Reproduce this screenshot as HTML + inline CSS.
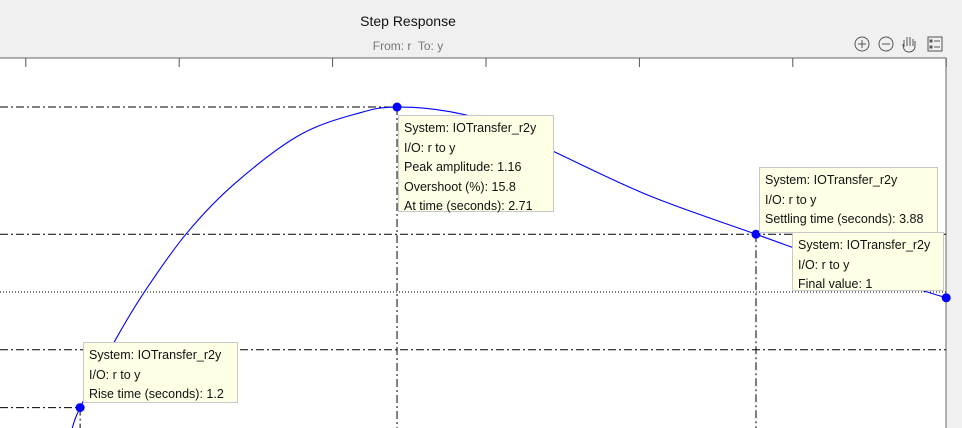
<!DOCTYPE html>
<html><head><meta charset="utf-8"><style>
html,body{margin:0;padding:0;background:#f0f0f0;width:962px;height:428px;overflow:hidden;font-family:"Liberation Sans",Arial,sans-serif}
.tip{position:absolute;background:#ffffe6;border:1px solid #c8c8c8;font-size:12.5px;line-height:19.5px;padding:3px 5px 0 5px;color:#111;white-space:nowrap;box-sizing:border-box}
</style></head><body>
<div style="position:relative;width:962px;height:428px">
<div style="position:absolute;left:0;width:816px;top:13px;text-align:center;font-size:14px;color:#111">Step Response</div>
<div style="position:absolute;left:0;width:816px;top:39px;text-align:center;font-size:12px;color:#777">From: r&nbsp; To: y</div>
<svg width="962" height="60" style="position:absolute;left:0;top:0">
<g stroke="#555" fill="none"><circle cx="862" cy="44" r="7"/><path d="M858 44h8M862 40v8"/></g>
<g stroke="#555" fill="none"><circle cx="886" cy="44" r="7"/><path d="M882 44h8"/></g>
<g stroke="#555" fill="none"><path d="M904 47v-7M907 46v-9M910 46v-9M913 46v-7M903 44c0 6 3 8 6 8s6-2 6-6v-5"/></g>
<g stroke="#555" fill="none"><rect x="928" y="37" width="14" height="14"/><path d="M934 41h6M934 47h6"/><rect x="930" y="40" width="2" height="2" fill="#555"/><rect x="930" y="46" width="2" height="2" fill="#555"/></g>
</svg>
<svg id="plot" width="962" height="428" style="position:absolute;left:0;top:0"></svg>
<div class="tip" style="left:398px;top:115px;width:156px;height:97px">System: IOTransfer_r2y<br>I/O: r to y<br>Peak amplitude: 1.16<br>Overshoot (%): 15.8<br>At time (seconds): 2.71</div>
<div class="tip" style="left:759px;top:167px;width:179px;height:66px">System: IOTransfer_r2y<br>I/O: r to y<br>Settling time (seconds): 3.88</div>
<div class="tip" style="left:792px;top:232px;width:152px;height:59px">System: IOTransfer_r2y<br>I/O: r to y<br>Final value: 1</div>
<div class="tip" style="left:83px;top:342px;width:155px;height:61px">System: IOTransfer_r2y<br>I/O: r to y<br>Rise time (seconds): 1.2</div>
</div>
<script>
const times = [1.651,1.677,1.791,1.889,2.025,2.182,2.394,2.589,2.710,2.883,3.046,3.225,3.535,3.880,4.186,4.500];
const values = [0.882,0.900,0.958,1.001,1.051,1.094,1.136,1.155,1.160,1.156,1.144,1.121,1.083,1.050,1.021,0.995];
const xTicks = [1.5,2,2.5,3,3.5,4,4.5];
const peak = [2.71,1.16];
const settle = [3.88,1.05];
const rise = [1.677,0.90];
const finalVal = [4.5,0.995];
const lowBand = 0.95, finalLine = 1.0;
const ns='http://www.w3.org/2000/svg';
const svg=document.getElementById('plot');
const X=t=>332.6+(t-2.5)*306.8;
const Y=v=>292-(v-1)*1156;
function mk(tag,attrs){const e=document.createElementNS(ns,tag);for(const k in attrs)e.setAttribute(k,attrs[k]);svg.appendChild(e);return e;}
let bg=mk('rect',{x:-10,y:58,width:956,height:380,fill:'#fff',stroke:'#666'});


xTicks.forEach(t=>{const l=mk('line',{x1:X(t),x2:X(t),y1:58,y2:67,stroke:'#555'});

});
const dd='8,3,2,3';
function ref(x1,y1,x2,y2,da,name){const l=mk('line',{x1,y1,x2,y2,stroke:'#000','stroke-dasharray':da,'stroke-width':1});

}
ref(0,Y(peak[1]),X(peak[0]),Y(peak[1]),dd,'peak-h-line');
ref(X(peak[0]),Y(peak[1]),X(peak[0]),428,dd,'peak-v-line');
ref(0,Y(settle[1]),946,Y(settle[1]),dd,'settle-upper-line');
ref(0,Y(lowBand),946,Y(lowBand),dd,'settle-lower-line');
ref(X(settle[0]),Y(settle[1]),X(settle[0]),428,dd,'settle-v-line');
ref(0,Y(finalLine),946,Y(finalLine),'1,2','final-value-line');
ref(0,Y(rise[1]),X(rise[0]),Y(rise[1]),dd,'rise-h-line');
ref(X(rise[0]),Y(rise[1]),X(rise[0]),428,dd,'rise-v-line');
const P=times.map((t,i)=>[X(t),Y(values[i])]);
let d='M'+P[0][0]+','+P[0][1];
for(let i=0;i<P.length-1;i++){
const p0=P[Math.max(0,i-1)],p1=P[i],p2=P[i+1],p3=P[Math.min(P.length-1,i+2)];
const c1=[p1[0]+(p2[0]-p0[0])/6,p1[1]+(p2[1]-p0[1])/6];
const c2=[p2[0]-(p3[0]-p1[0])/6,p2[1]-(p3[1]-p1[1])/6];
d+=' C'+c1+' '+c2+' '+p2;}
const path=mk('path',{d,fill:'none',stroke:'#0000ff','stroke-width':1.1});


[[peak,'peak-marker'],[settle,'settling-marker'],[rise,'rise-marker'],[finalVal,'final-marker']].forEach(([p,n])=>{
const c=mk('circle',{cx:X(p[0]),cy:Y(p[1]),r:4.5,fill:'#0000ff'});

});
</script>
</body></html>
